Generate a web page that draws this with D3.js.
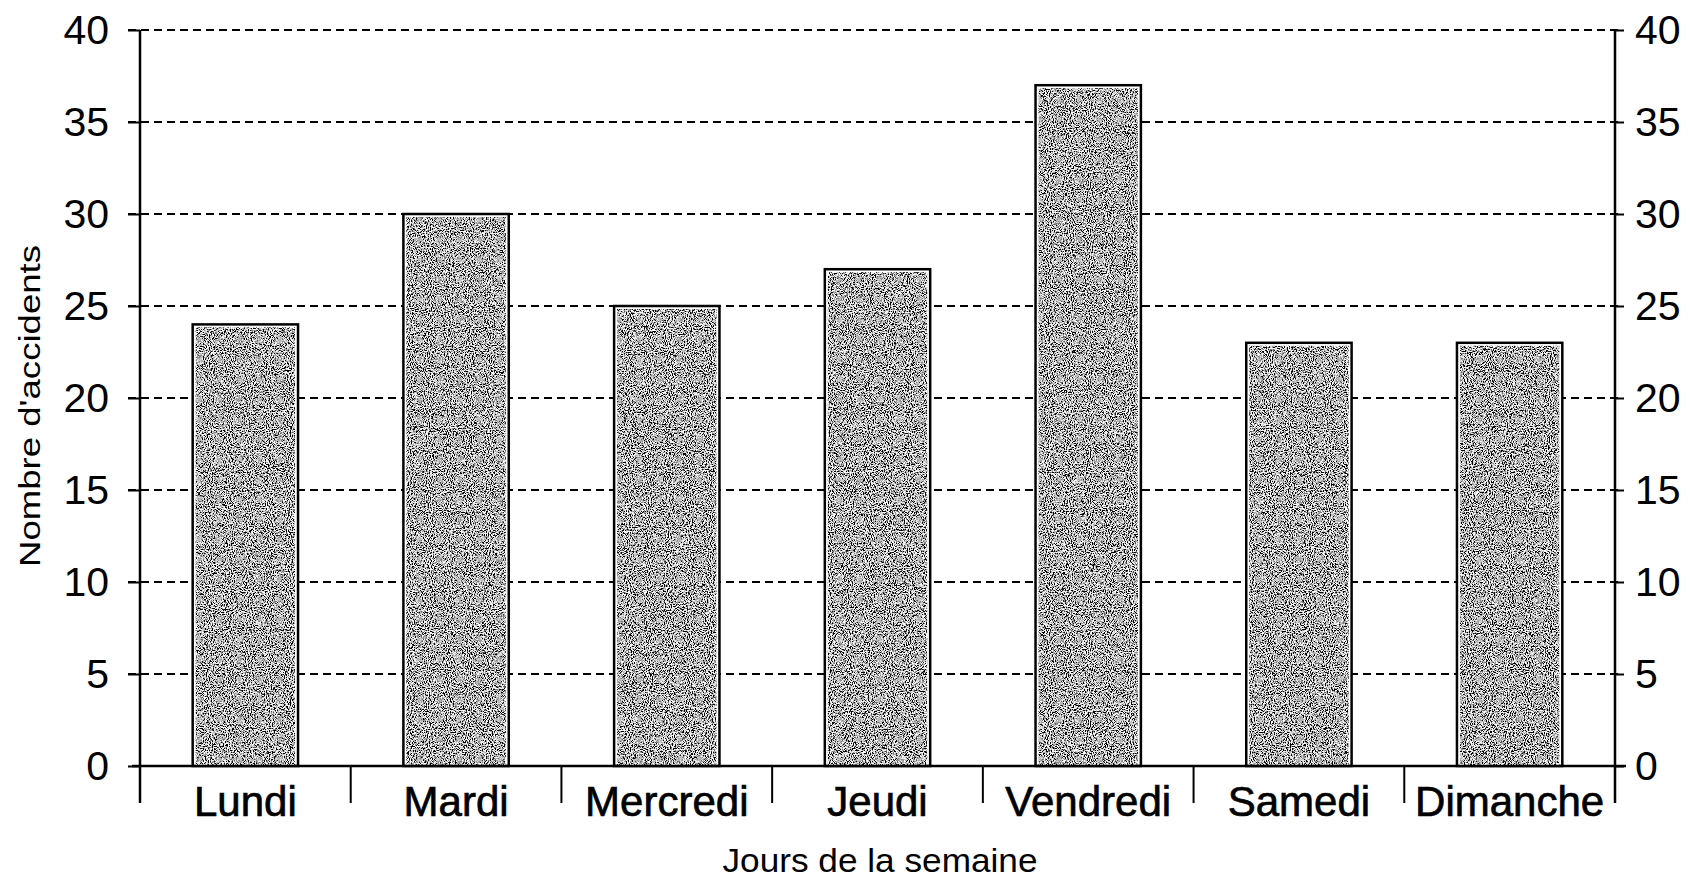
<!DOCTYPE html>
<html>
    <script src="https://d3js.org/d3.v7.min.js"></script>
    <body>
        <svg id="chart"></svg>
        <script>
            // données
            const days = ['Lundi', 'Mardi', 'Mercredi', 'Jeudi', 'Vendredi', 'Samedi', 'Dimanche'];
            const accidents = [24, 30, 25, 27, 37, 23, 23];
            const yTicks = [0, 5, 10, 15, 20, 25, 30, 35, 40];

            const W = 1697, H = 882;
            const plotLeft = 140, plotRight = 1615, plotTop = 30, plotBottom = 766;

            const svg = d3.select('#chart')
                          .attr('width', W)
                          .attr('height', H)
                          .style('font-family', '"Liberation Sans", Arial, sans-serif');

            svg.append('rect').attr('width', W).attr('height', H).attr('fill', '#fff');

            // texture grain pour les barres
            const defs = svg.append('defs');
            const grain = defs.append('filter').attr('id', 'grain')
                              .attr('x', 0).attr('y', 0).attr('width', 1).attr('height', 1);
            grain.append('feTurbulence')
                 .attr('type', 'fractalNoise')
                 .attr('baseFrequency', 0.95)
                 .attr('numOctaves', 2)
                 .attr('seed', 3)
                 .attr('result', 'n');
            grain.append('feColorMatrix')
                 .attr('in', 'n')
                 .attr('type', 'matrix')
                 .attr('values', '4.2 0 0 0 -1.62  4.2 0 0 0 -1.62  4.2 0 0 0 -1.62  0 0 0 0 1')
                 .attr('result', 'g');
            grain.append('feComposite')
                 .attr('in', 'g')
                 .attr('in2', 'SourceGraphic')
                 .attr('operator', 'in');

            const x = d3.scaleBand()
                        .domain(days)
                        .range([plotLeft, plotRight])
                        .paddingInner(0.5)
                        .paddingOuter(0.25);
            const y = d3.scaleLinear()
                        .domain([0, 40])
                        .range([plotBottom, plotTop]);

            // grille pointillée
            svg.append('g')
               .selectAll('line')
               .data(yTicks.filter(d => d > 0))
               .enter()
               .append('line')
                 .attr('x1', plotLeft - 12)
                 .attr('x2', plotRight + 8)
                 .attr('y1', d => y(d))
                 .attr('y2', d => y(d))
                 .attr('stroke', '#000')
                 .attr('stroke-width', 2)
                 .attr('stroke-dasharray', '8,5');

            // barres
            const bars = svg.append('g')
                            .selectAll('g')
                            .data(days)
                            .enter()
                            .append('g');
            bars.append('rect')
                .attr('x', d => x(d))
                .attr('y', (d, i) => y(accidents[i]))
                .attr('width', x.bandwidth())
                .attr('height', (d, i) => plotBottom - y(accidents[i]))
                .attr('fill', '#fff')
                .attr('stroke', '#000')
                .attr('stroke-width', 2.5);
            bars.append('rect')
                .attr('x', d => x(d) + 3)
                .attr('y', (d, i) => y(accidents[i]) + 3)
                .attr('width', x.bandwidth() - 6)
                .attr('height', (d, i) => plotBottom - y(accidents[i]) - 3)
                .attr('fill', '#888')
                .attr('filter', 'url(#grain)');

            // axes verticaux
            const axL = svg.append('g')
                           .attr('transform', `translate(${plotLeft}, 0)`)
                           .call(d3.axisLeft(y).tickValues(yTicks).tickSize(12).tickSizeOuter(0).tickPadding(19));
            const axR = svg.append('g')
                           .attr('transform', `translate(${plotRight}, 0)`)
                           .call(d3.axisRight(y).tickValues(yTicks).tickSize(9).tickSizeOuter(0).tickPadding(11));
            [axL, axR].forEach(g => {
                g.select('.domain').remove();
                g.selectAll('line').attr('stroke', '#000').attr('stroke-width', 2);
                g.selectAll('text')
                 .attr('fill', '#000')
                 .style('font-size', '41px')
                 .attr('font-family', '"Liberation Sans", Arial, sans-serif');
            });
            [plotLeft, plotRight].forEach(px => {
                svg.append('line')
                   .attr('x1', px).attr('x2', px)
                   .attr('y1', y(40)).attr('y2', plotBottom + 37)
                   .attr('stroke', '#000').attr('stroke-width', 2.5);
            });

            // axe horizontal
            svg.append('line')
               .attr('x1', plotLeft - 8).attr('x2', plotRight + 11)
               .attr('y1', plotBottom).attr('y2', plotBottom)
               .attr('stroke', '#000').attr('stroke-width', 2.5);

            svg.append('g')
               .selectAll('line')
               .data(days.slice(1))
               .enter()
               .append('line')
                 .attr('x1', d => x(d) - x.step() * 0.25)
                 .attr('x2', d => x(d) - x.step() * 0.25)
                 .attr('y1', plotBottom)
                 .attr('y2', plotBottom + 37)
                 .attr('stroke', '#000')
                 .attr('stroke-width', 2);

            const axB = svg.append('g')
                           .attr('transform', `translate(0, ${plotBottom})`)
                           .call(d3.axisBottom(x).tickSize(0).tickPadding(20));
            axB.select('.domain').remove();
            axB.selectAll('text')
               .attr('fill', '#000')
               .attr('stroke', '#000')
               .attr('stroke-width', 0.7)
               .style('font-size', '42px')
               .attr('font-family', '"Liberation Sans", Arial, sans-serif');

            // titres des axes
            svg.append('text')
               .attr('transform', 'translate(40, 406) rotate(-90)')
               .attr('text-anchor', 'middle')
               .attr('textLength', 322)
               .attr('lengthAdjust', 'spacingAndGlyphs')
               .style('font-size', '30px')
               .text("Nombre d'accidents");

            svg.append('text')
               .attr('x', 880)
               .attr('y', 872)
               .attr('text-anchor', 'middle')
               .attr('textLength', 315)
               .attr('lengthAdjust', 'spacingAndGlyphs')
               .style('font-size', '33px')
               .text('Jours de la semaine');
        </script>
        <style>
            body { margin: 0; background: #fff; }
            svg { display: block; }
        </style>
    </body>
</html>
